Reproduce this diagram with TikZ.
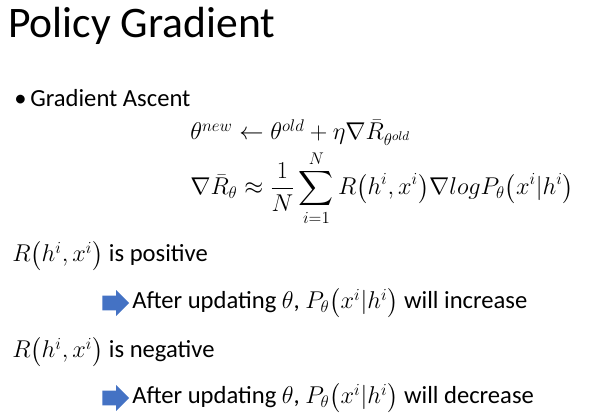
\documentclass[tikz,border=0pt]{standalone}
\usepackage{amsmath}
\usepackage{fontspec}
\setmainfont{Carlito}
\usetikzlibrary{shapes.arrows}
\definecolor{arrowblue}{HTML}{4472C4}
\tikzset{
  title/.style={anchor=base west, inner sep=0pt, font=\fontsize{31}{36}\selectfont},
  body/.style={anchor=base west, inner sep=0pt, font=\fontsize{17.5}{21}\selectfont},
  eqn/.style={anchor=base west, inner sep=0pt, font=\fontsize{18}{22}\selectfont},
  bluearrow/.style={single arrow, fill=arrowblue, draw=none, inner sep=5pt,
    single arrow head extend=4pt, minimum height=19pt}
}
\begin{document}
\begin{tikzpicture}[x=0.025cm, y=-0.025cm]
\useasboundingbox (0,0) rectangle (600,419);

% Title and bullet
\node (title) [title] at (8,38) {Policy Gradient};
\node (bullet) [body] at (14,107) {\textbullet};
\node (ascent) [body] at (30,107) {Gradient Ascent};

% Equations
\node (update) [eqn] at (190,140) {$\theta^{new} \leftarrow \theta^{old} + \eta\nabla\bar{R}_{\theta^{old}}$};
\node (grad) [eqn] at (190,195) {$\nabla\bar{R}_{\theta} \approx \dfrac{1}{N}\displaystyle\sum_{i=1}^{N} R\big(h^i,x^i\big)\nabla log P_{\theta}\big(x^i|h^i\big)$};

% Positive case
\node (pos) [body] at (12,262) {$R\big(h^i,x^i\big)$ is positive};
\node (posarrow) [bluearrow] at (112,303) {};
\node (inc) [body] at (132,309) {After updating $\theta$, $P_{\theta}\big(x^i|h^i\big)$ will increase};

% Negative case
\node (neg) [body] at (12,358) {$R\big(h^i,x^i\big)$ is negative};
\node (negarrow) [bluearrow] at (112,398) {};
\node (dec) [body] at (132,404) {After updating $\theta$, $P_{\theta}\big(x^i|h^i\big)$ will decrease};

\end{tikzpicture}
\end{document}
